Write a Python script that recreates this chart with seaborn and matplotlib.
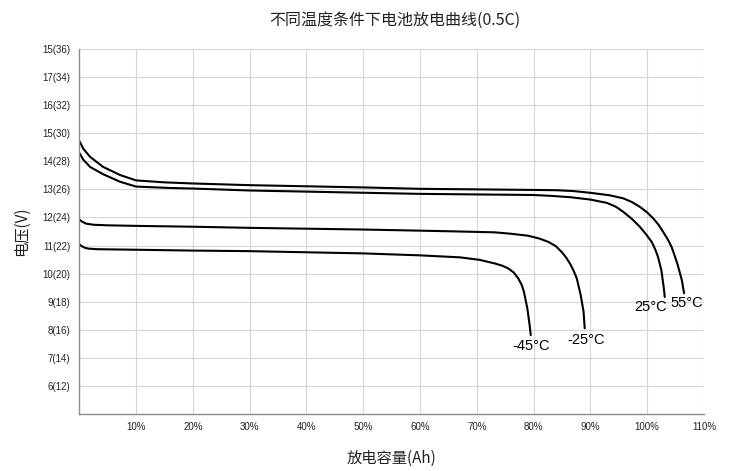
import numpy as np
import pandas as pd
import matplotlib
matplotlib.use('Agg')
import matplotlib.pyplot as plt
import seaborn as sns

# capacity (%) and voltage (V)
x_55 = [0, 0.7, 1.9, 4.2, 7.2, 10, 15, 20, 30, 40, 50, 60, 70, 80, 84, 87, 89.9, 93.4,
        95.8, 97.3, 98.7, 100, 101.1, 102, 102.8, 103.6, 104.3, 104.8, 105.3, 105.7,
        106.1, 106.5]
y_55 = [14.73, 14.45, 14.16, 13.80, 13.51, 13.32, 13.25, 13.21, 13.15, 13.11, 13.07,
        13.02, 13.00, 12.98, 12.97, 12.94, 12.88, 12.79, 12.68, 12.55, 12.38, 12.18,
        11.96, 11.74, 11.49, 11.23, 10.95, 10.66, 10.36, 10.07, 9.77, 9.30]

x_25 = [0, 0.7, 1.9, 4.2, 7.2, 10, 16, 20, 30, 40, 50, 60, 70, 80, 83, 86.5, 89.9,
        92.9, 94.5, 95.8, 97.3, 98.7, 99.8, 100.8, 101.4, 101.9, 102.5, 102.9, 103.1]
y_25 = [14.30, 14.06, 13.80, 13.54, 13.27, 13.10, 13.05, 13.03, 12.96, 12.92, 12.88,
        12.84, 12.82, 12.80, 12.77, 12.72, 12.64, 12.52, 12.38, 12.20, 11.95, 11.67,
        11.40, 11.13, 10.87, 10.60, 10.12, 9.53, 9.17]

x_m25 = [0, 0.5, 1.2, 2.5, 5, 10, 20, 30, 40, 50, 60, 67, 71, 73.2, 76, 79, 81, 82.6,
         83.9, 84.9, 85.7, 86.4, 87.1, 87.6, 88.3, 88.8, 89]
y_m25 = [11.93, 11.85, 11.78, 11.74, 11.72, 11.70, 11.67, 11.63, 11.60, 11.57, 11.53,
         11.50, 11.48, 11.47, 11.42, 11.35, 11.25, 11.13, 10.98, 10.78, 10.58, 10.36,
         10.08, 9.83, 9.23, 8.64, 8.05]

x_m45 = [0, 0.4, 1, 1.6, 3, 10, 20, 30, 40, 50, 60, 67, 70.5, 73.2, 74.5, 75.5, 76.5,
         77.3, 77.9, 78.3, 78.9, 79.3, 79.5]
y_m45 = [11.05, 10.98, 10.92, 10.89, 10.87, 10.85, 10.82, 10.80, 10.76, 10.72, 10.65,
         10.58, 10.49, 10.36, 10.28, 10.19, 10.04, 9.83, 9.6, 9.35, 8.76, 8.17, 7.81]

series = ['55°C', '25°C', '-25°C', '-45°C']
xs = [x_55, x_25, x_m25, x_m45]
ys = [y_55, y_25, y_m25, y_m45]
label_offsets = [(2, -7.2), (-10, -7.2), (1.2, -8.4), (0, -8)]

x_ticks = [10, 20, 30, 40, 50, 60, 70, 80, 90, 100, 110]
x_labels = ['%d%%' % t for t in x_ticks]
y_ticks = [6, 7, 8, 9, 10, 11, 12, 13, 14, 15, 16, 17, 18]
y_labels = ['6(12)', '7(14)', '8(16)', '9(18)', '10(20)', '11(22)', '12(24)',
            '13(26)', '14(28)', '15(30)', '16(32)', '17(34)', '15(36)']

df = pd.concat([pd.DataFrame({'cap': x, 'volt': y, 'temp': s})
                for s, x, y in zip(series, xs, ys)], ignore_index=True)

sns.set_style('white')
plt.rcParams['font.family'] = ['Liberation Sans', 'Noto Sans CJK SC', 'DejaVu Sans']
cjk = ['Noto Sans CJK SC', 'DejaVu Sans']

fig = plt.figure(figsize=(7.32, 4.71), dpi=100)
ax = fig.add_axes([0.1083, 0.121, 0.8534, 0.775])

sns.lineplot(data=df, x='cap', y='volt', hue='temp', units='temp', estimator=None,
             sort=False, palette={s: 'black' for s in series}, linewidth=1.5,
             legend=False, ax=ax)

for s, x, y, off in zip(series, xs, ys, label_offsets):
    ax.annotate(s, xy=(x[-1], y[-1]), xytext=off, textcoords='offset points',
                ha='center', va='center', fontsize=10.5, color='black')

ax.set_xlim(0, 110)
ax.set_ylim(5, 18)
ax.set_xticks(x_ticks)
ax.set_xticklabels(x_labels)
ax.set_yticks(y_ticks)
ax.set_yticklabels(y_labels)
ax.tick_params(axis='both', length=0, labelsize=7, colors='#222222')
ax.tick_params(axis='x', pad=6)
ax.tick_params(axis='y', pad=6.5)
ax.grid(True, color='#d6d6d6', linewidth=0.8)
ax.set_axisbelow(True)
for side in ['top', 'right']:
    ax.spines[side].set_visible(False)
for side in ['left', 'bottom']:
    ax.spines[side].set_color('#8c8c8c')
    ax.spines[side].set_linewidth(1.0)

ax.set_xlabel('放电容量(Ah)', family=cjk, fontsize=11, labelpad=12.5, color='#222222')
ax.set_ylabel('电压(V)', family=cjk, fontsize=11, labelpad=9, color='#222222')
fig.text(395 / 732, 1 - 20 / 471, '不同温度条件下电池放电曲线(0.5C)', family=cjk,
         fontsize=11.5, ha='center', va='center', color='#222222')

fig.savefig('out.png', dpi=100)
